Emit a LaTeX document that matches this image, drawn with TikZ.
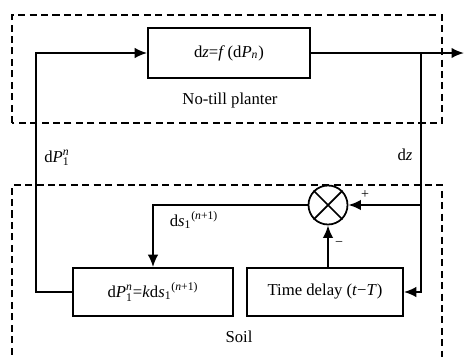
\documentclass[tikz,border=0pt]{standalone}
\usepackage{fontspec}
\setmainfont{Liberation Serif}
\usepackage{amsmath}
\usetikzlibrary{arrows.meta, positioning, calc}

\begin{document}
\begin{tikzpicture}[
    font=\fontsize{9.5}{11}\selectfont,
    block/.style={draw, line width=0.9pt, minimum height=0.96cm, align=center},
    sumnode/.style={draw, line width=1pt, circle, minimum size=0.78cm, inner sep=0pt},
    arrow/.style={-{Latex[length=2.5mm,width=2.1mm]}, line width=1.1pt},
    region/.style={draw, line width=0.8pt, dash pattern=on 4pt off 2.5pt},
    sign/.style={font=\fontsize{8}{9}\selectfont, inner sep=1pt},
]
    \useasboundingbox (0,0) rectangle (9.3,7.12);

    % dashed regions
    \draw[region] (0.24,4.66) rectangle (8.84,6.82);
    \draw[region] (0.24,-0.2) rectangle (8.84,3.42);

    \node[block, minimum width=3.24cm, minimum height=1cm] (planter) at (4.58,6.06) {d\textit{z}=\textit{f}\,(d\textit{P}\textsubscript{\textit{n}})};
    \node[block, minimum width=3.2cm] (rule) at (3.06,1.28) {d\textit{P}$^{\text{\itshape n}}_{\text{1}}$=\textit{k}d\textit{s}\textsubscript{1}\textsuperscript{(\textit{n}+1)}};
    \node[block, minimum width=3.12cm] (delay) at (6.5,1.28) {Time delay (\textit{t}−\textit{T})};
    \node[sumnode] (sum) at (6.56,3.02) {};
    \draw[line width=1pt] (sum.north west) -- (sum.south east) (sum.north east) -- (sum.south west);

    \node (plantlabel) at (4.6,5.12) {No-till planter};
    \node (soillabel) at (4.78,0.38) {Soil};

    \coordinate (tap) at (8.42,6.06);
    \coordinate (out) at (9.28,6.06);
    \coordinate (fbk) at (0.72,6.06);

    \draw[arrow] (planter.east) -- (out);
    \draw[arrow] (tap) |- (delay.east);
    \draw[arrow] (tap |- sum) -- (sum.east);
    \draw[arrow] (delay.north -| sum) -- (sum.south);
    \draw[arrow] (sum.west) -| (rule.north);
    \draw[arrow] (rule.west) -| (fbk) -- (planter.west);

    \node[sign] (plus) at (7.3,3.22) {+};
    \node[sign] (minus) at (6.78,2.24) {−};
    \node (dslabel) at (3.88,2.72) {d\textit{s}\textsubscript{1}\textsuperscript{(\textit{n}+1)}};
    \node (dplabel) at (1.14,3.96) {d\textit{P}$^{\text{\itshape n}}_{\text{1}}$};
    \node (dzlabel) at (8.1,4.02) {d\textit{z}};
\end{tikzpicture}
\end{document}
